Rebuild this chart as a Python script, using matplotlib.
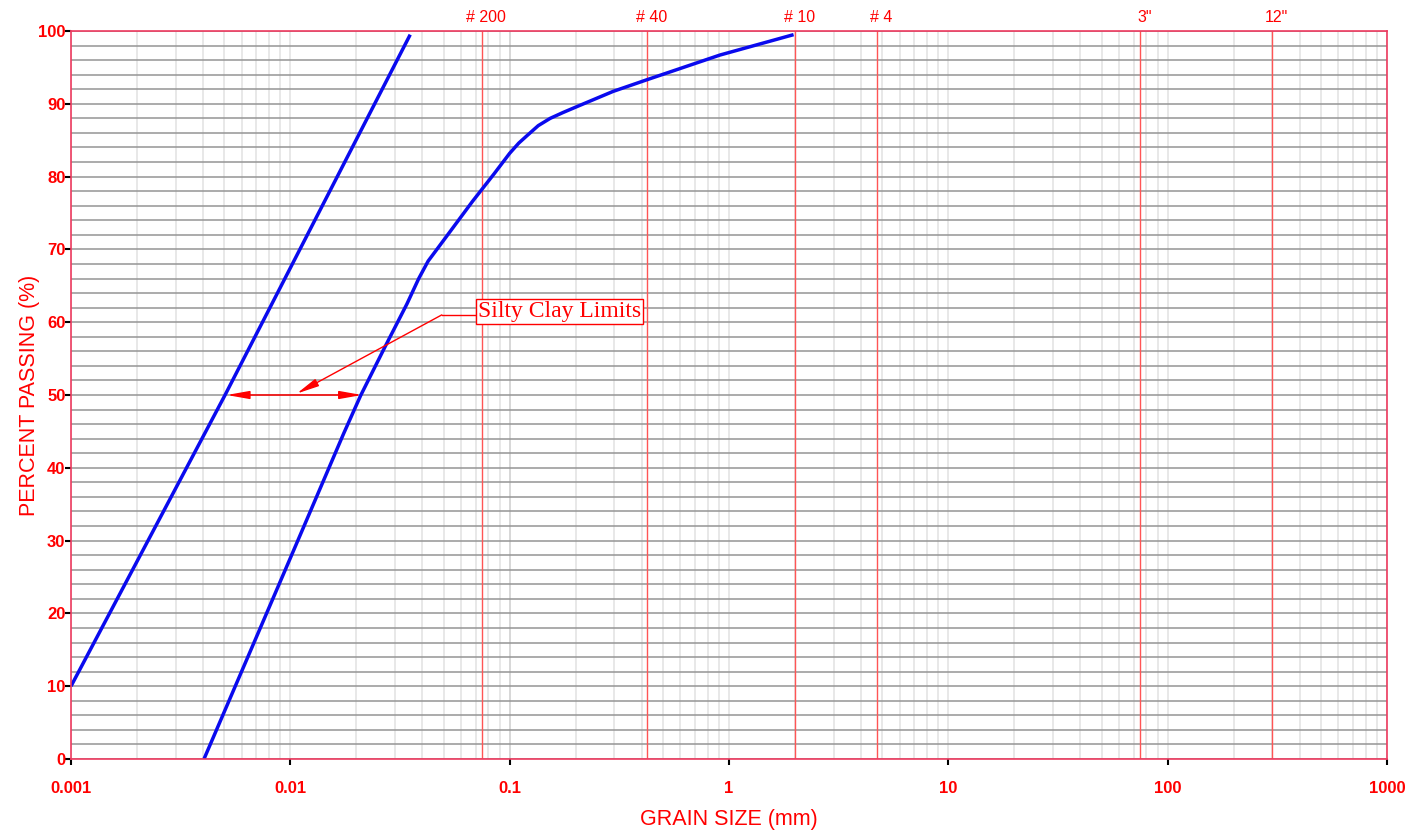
import numpy as np
import matplotlib
matplotlib.use('Agg')
import matplotlib.pyplot as plt
from matplotlib.ticker import LogLocator, MultipleLocator, NullFormatter

#Silty clay limit curves (grain size in mm, percent passing)
fineSize = [0.001, 0.00504, 0.0352]
finePass = [10, 50, 99.5]
coarseSize = [0.00404, 0.0100, 0.0175, 0.0209, 0.0270, 0.034, 0.0385, 0.0425, 0.0471, 0.0677,
              0.085, 0.1, 0.11, 0.1197, 0.135, 0.153, 0.175, 0.202, 0.296, 0.422, 0.91, 1.97]
coarsePass = [0, 27.6, 44.7, 49.9, 56.6, 62.5, 66.0, 68.4, 70.2, 76.6,
              80.4, 83.2, 84.6, 85.6, 87.0, 88.0, 88.8, 89.6, 91.7, 93.3, 96.7, 99.5]

#Sieve openings marked along the top
sieveSize = [0.075, 0.425, 2.0, 4.75, 75, 300]
sieveLabels = ['# 200', '# 40', '# 10', '# 4', '3"', '12"']

#Axis ticks
xTicks = [0.001, 0.01, 0.1, 1, 10, 100, 1000]
xTickLabels = ['0.001', '0.01', '0.1', '1', '10', '100', '1000']
yTicks = list(range(0, 101, 10))

RED = '#ff0000'
FRAME = '#ee3a5f'

def main():
    plt.rcParams['font.family'] = ['Liberation Sans', 'DejaVu Sans']
    fig = plt.figure(figsize=(14.07, 8.34), dpi=100)
    W, H = 1407.0, 834.0
    ax = fig.add_axes([71 / W, 1 - 759 / H, (1387 - 71) / W, (759 - 31) / H])

    ax.set_xscale('log')
    ax.set_xlim(0.001, 1000)
    ax.set_ylim(0, 100)

    #grid: light verticals at 1..9 per decade, gray horizontals every 2%
    ax.xaxis.set_minor_locator(LogLocator(base=10, subs=np.arange(2, 10)))
    ax.xaxis.set_minor_formatter(NullFormatter())
    ax.yaxis.set_minor_locator(MultipleLocator(2))
    ax.grid(which='both', axis='x', color='#e4e4e4', lw=1.2, zorder=0)
    ax.grid(which='both', axis='y', color='#959595', lw=1.1, zorder=0)
    ax.axvline(0.1, color='#808080', lw=1.1, zorder=1)

    #sieve lines and labels
    for s, lab in zip(sieveSize, sieveLabels):
        ax.axvline(s, color='#ff5555', lw=1.0, zorder=2)
        ax.annotate(lab, xy=(s, 100), xytext=(3, 4), textcoords='offset points',
                    ha='center', va='bottom', color=RED, fontsize=11.5, annotation_clip=False)

    #limit curves
    ax.plot(fineSize, finePass, color='#0a0aee', lw=2.5, zorder=5, solid_capstyle='butt')
    ax.plot(coarseSize, coarsePass, color='#0a0aee', lw=2.5, zorder=5, solid_capstyle='butt',
            solid_joinstyle='round')

    #double arrow between the limits at 50 %
    ax.annotate('', xy=(0.00513, 50), xytext=(0.0212, 50),
                arrowprops=dict(arrowstyle='<|-|>,head_length=0.9,head_width=0.16',
                                color=RED, lw=1.1, mutation_scale=15, shrinkA=0, shrinkB=0), zorder=6)
    #leader from label box to arrow
    ax.plot([0.049, 0.0716], [61.0, 61.0], color=RED, lw=1.0, zorder=6)
    ax.annotate('', xy=(0.0107, 50.2), xytext=(0.049, 61.0),
                arrowprops=dict(arrowstyle='-|>,head_length=0.9,head_width=0.16',
                                color=RED, lw=1.0, mutation_scale=15, shrinkA=0, shrinkB=0), zorder=6)
    ax.text(0.0716, 61.5, 'Silty Clay Limits', family=['Liberation Serif', 'DejaVu Serif'],
            fontsize=17, color=RED, ha='left', va='center', zorder=7,
            bbox=dict(boxstyle='square,pad=0.08', fc='white', ec=RED, lw=1.0))

    #ticks
    ax.set_xticks(xTicks)
    ax.set_xticklabels(xTickLabels)
    ax.set_yticks(yTicks)
    ax.tick_params(which='major', direction='out', length=4, width=1.5, color='black',
                   labelcolor=RED, labelsize=12)
    ax.tick_params(axis='x', which='major', pad=12)
    ax.tick_params(axis='y', which='major', pad=0)
    ax.tick_params(which='minor', length=0)
    for lab in ax.get_xticklabels() + ax.get_yticklabels():
        lab.set_family(['Liberation Sans Narrow', 'Liberation Sans'])
        lab.set_fontweight('bold')
    for sp in ax.spines.values():
        sp.set_color(FRAME)
        sp.set_linewidth(1.2)
        sp.set_zorder(8)

    fig.text(729 / W, 1 - 820 / H, 'GRAIN SIZE (mm)', color=RED, fontsize=15.5,
             ha='center', va='center')
    fig.text(30 / W, 1 - 395 / H, 'PERCENT PASSING (%)', color=RED, fontsize=15.5,
             ha='center', va='center', rotation=90)

    fig.savefig('out.png', dpi=100, facecolor='white')

if __name__ == '__main__':
    main()
